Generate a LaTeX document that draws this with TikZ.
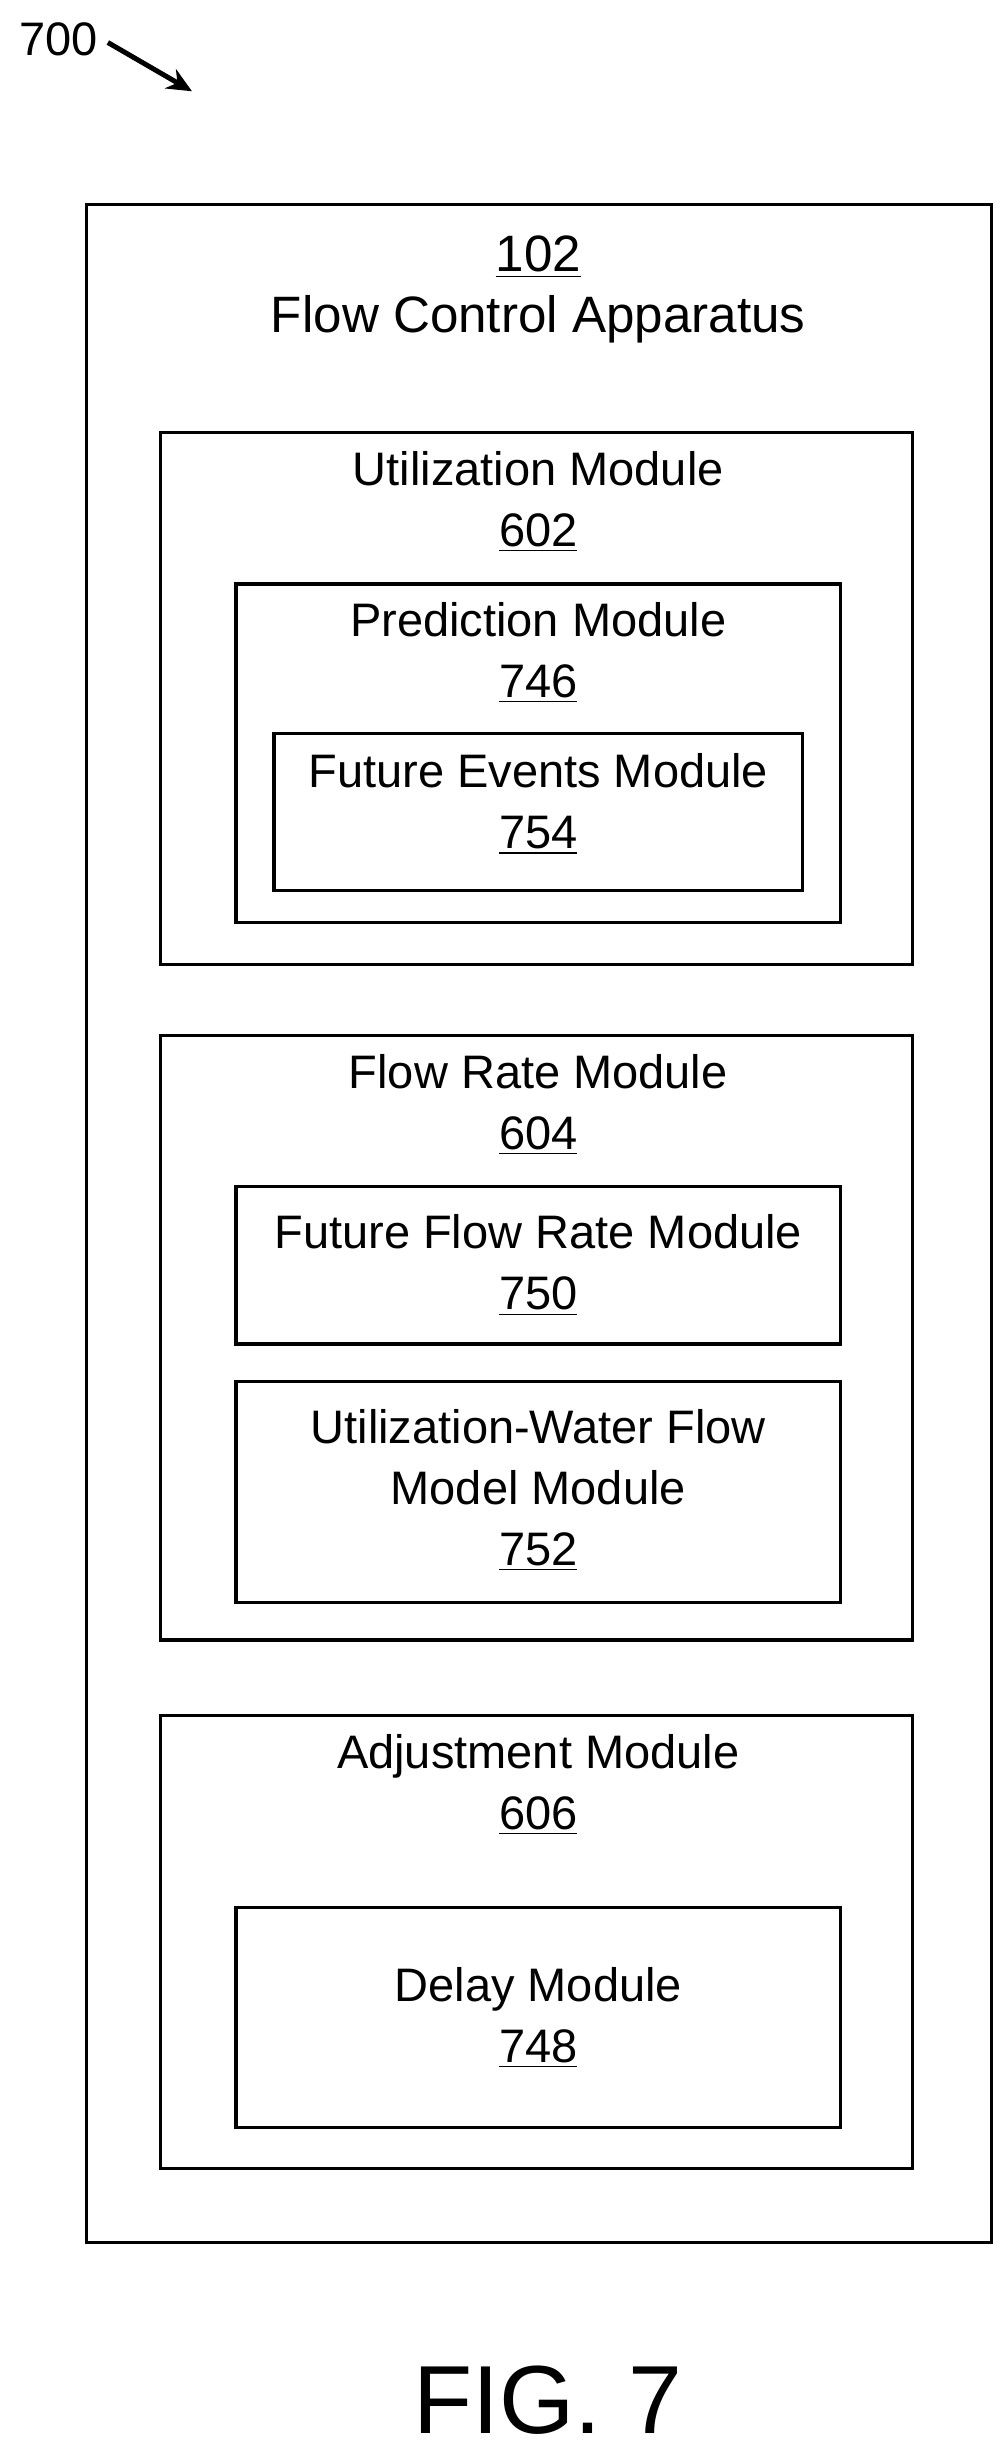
\documentclass[tikz,border=0pt]{standalone}
\usepackage{fontspec}
\setmainfont{Liberation Sans}
\usetikzlibrary{positioning,arrows.meta}
\tikzset{
  box/.style={draw,line width=1.2pt},
  lbl/.style={font=\fontsize{17}{22}\selectfont,align=center,inner sep=0pt}
}
\begin{document}
\begin{tikzpicture}[x=0.02cm,y=-0.02cm]
  \useasboundingbox (0,0) rectangle (640,1558);
  \node[lbl,anchor=west] (ref) at (12,25) {700};
  \draw[line width=1.8pt,-{Stealth[length=9pt,width=8pt]}] (ref.east) ++(6,2) coordinate (tail) -- (122,58) coordinate (head);
  % outer apparatus
  \draw[box] (55,130) rectangle (630,1425);
  \node[lbl,font=\fontsize{18.5}{22}\selectfont] (app) at (342,184) {\underline{102}\\Flow Control Apparatus};
  % utilization
  \draw[box] (102,275) rectangle (580,613);
  \node[lbl] (util) at (342,319) {Utilization Module\\\underline{602}};
  \draw[box] (150,371) rectangle (534,586);
  \node[lbl] (pred) at (342,415) {Prediction Module\\\underline{746}};
  \draw[box] (174,466) rectangle (510,566);
  \node[lbl] (fut) at (342,511) {Future Events Module\\\underline{754}};
  % flow rate
  \draw[box] (102,658) rectangle (580,1042);
  \node[lbl] (flow) at (342,702) {Flow Rate Module\\\underline{604}};
  \draw[box] (150,754) rectangle (534,854);
  \node[lbl] (ffr) at (342,804) {Future Flow Rate Module\\\underline{750}};
  \draw[box] (150,878) rectangle (534,1018);
  \node[lbl] (uwf) at (342,947) {Utilization-Water Flow\\Model Module\\\underline{752}};
  % adjustment
  \draw[box] (102,1090) rectangle (580,1378);
  \node[lbl] (adj) at (342,1134) {Adjustment Module\\\underline{606}};
  \draw[box] (150,1212) rectangle (534,1352);
  \node[lbl] (del) at (342,1282) {Delay Module\\\underline{748}};
  \node[lbl,font=\fontsize{35}{40}\selectfont] (fig) at (348,1525) {FIG. 7};
\end{tikzpicture}
\end{document}
